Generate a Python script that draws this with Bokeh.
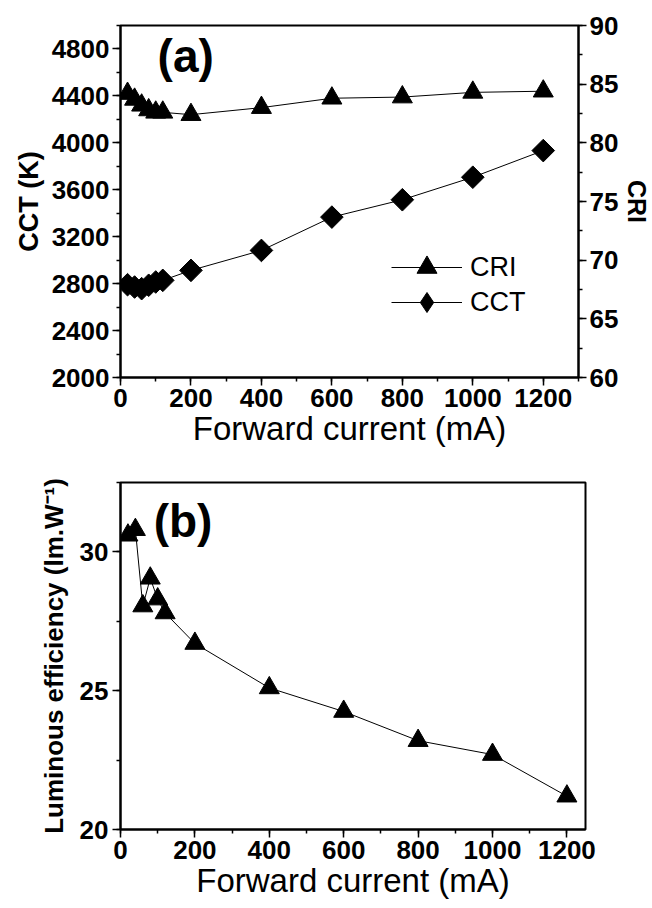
import math
from bokeh.plotting import figure
from bokeh.models import (Range1d, LinearAxis, SingleIntervalTicker, Legend,
                          LegendItem, Label)
from bokeh.layouts import column
from bokeh.embed import file_html
from bokeh.resources import INLINE

# ---------------- data ----------------
current_ma = [20, 40, 60, 80, 100, 120, 200, 400, 600, 800, 1000, 1200]
cri = [84.2, 83.7, 83.2, 82.8, 82.6, 82.6, 82.4, 83.0, 83.8, 83.9, 84.3, 84.4]
cct_k = [2791, 2771, 2757, 2786, 2814, 2828, 2913, 3083, 3367, 3515, 3707, 3934]
efficiency = [30.6, 30.8, 28.05, 29.05, 28.3, 27.8, 26.7, 25.1, 24.25, 23.2, 22.7, 21.2]

x_label = "Forward current (mA)"
cct_label = "CCT (K)"
cri_label = "CRI"
eff_label = "Luminous efficiency (lm.W\u207b\u00b9)"

FONT = "Liberation Sans"
TICK_FS = "26px"
TITLE_FS = "33px"


def style_axis(ax, interval, bold_label=True, label_fs="27px",
               label_standoff=6, tick_standoff=3):
    ax.ticker = SingleIntervalTicker(interval=interval, num_minor_ticks=2)
    ax.axis_line_color = "black"
    ax.axis_line_width = 2
    ax.major_tick_line_color = "black"
    ax.major_tick_line_width = 1.5
    ax.minor_tick_line_color = "black"
    ax.minor_tick_line_width = 1.5
    ax.major_tick_in = 0
    ax.major_tick_out = 8
    ax.minor_tick_in = 0
    ax.minor_tick_out = 4
    ax.major_label_text_font = FONT
    ax.major_label_text_font_style = "bold"
    ax.major_label_text_font_size = TICK_FS
    ax.major_label_text_color = "black"
    ax.major_label_standoff = tick_standoff
    ax.axis_label_text_font = FONT
    ax.axis_label_text_font_style = "bold" if bold_label else "normal"
    ax.axis_label_text_font_size = label_fs
    ax.axis_label_text_color = "black"
    ax.axis_label_standoff = label_standoff


def make_legend(label, renderers, loc):
    return Legend(items=[LegendItem(label=label, renderers=renderers)],
                  location=loc, orientation="vertical",
                  glyph_width=71, glyph_height=50, label_height=50,
                  spacing=0, padding=0, margin=0, label_standoff=8,
                  border_line_color=None, background_fill_alpha=0,
                  inactive_fill_alpha=0,
                  label_text_font=FONT, label_text_font_size="27px",
                  label_text_color="black")


# ---------------- panel (a) ----------------
p1 = figure(frame_width=458, frame_height=352,
            min_border_left=120, min_border_top=25,
            min_border_right=72, min_border_bottom=80,
            x_range=Range1d(0, 1300), y_range=Range1d(2000, 5000),
            output_backend="svg", toolbar_location=None,
            background_fill_color="white", border_fill_color="white")
p1.extra_y_ranges = {"cri": Range1d(60, 90)}
p1.xgrid.visible = False
p1.ygrid.visible = False
p1.outline_line_color = "black"
p1.outline_line_width = 2

style_axis(p1.xaxis[0], 200, bold_label=False, label_fs=TITLE_FS, label_standoff=0)
p1.xaxis[0].axis_label = x_label
style_axis(p1.yaxis[0], 400, label_standoff=5)
p1.yaxis[0].axis_label = cct_label

right_ax = LinearAxis(y_range_name="cri")
style_axis(right_ax, 5, label_fs="25px", label_standoff=2, tick_standoff=3)
right_ax.axis_label = cri_label
p1.add_layout(right_ax, "right")

l_cri = p1.line(current_ma, cri, y_range_name="cri", line_color="black", line_width=1)
s_cri = p1.scatter(current_ma, cri, y_range_name="cri", marker="triangle", size=20,
                   fill_color="black", line_color="black")
l_cct = p1.line(current_ma, cct_k, line_color="black", line_width=1)
s_cct = p1.scatter(current_ma, cct_k, marker="square", angle=math.pi / 4, size=16,
                   fill_color="black", line_color="black")
# legend-only glyph (diamond shape, hidden in the plot area)
s_cct_leg = p1.scatter(current_ma, cct_k, marker="diamond", size=20,
                       fill_color="black", line_color="black", visible=False)

p1.add_layout(make_legend(cri_label, [l_cri, s_cri], (271, 85)), "center")
p1.add_layout(make_legend("CCT", [l_cct, s_cct_leg], (271, 50)), "center")

p1.add_layout(Label(x=185, y=4740, text="(a)", text_align="center",
                    text_baseline="middle", text_font=FONT, text_font_style="bold",
                    text_font_size="46px", text_color="black"))

# ---------------- panel (b) ----------------
p2 = figure(frame_width=465, frame_height=347,
            min_border_left=117, min_border_top=25,
            min_border_right=30, min_border_bottom=72,
            x_range=Range1d(0, 1250), y_range=Range1d(20, 32.5),
            output_backend="svg", toolbar_location=None,
            background_fill_color="white", border_fill_color="white")
p2.xgrid.visible = False
p2.ygrid.visible = False
p2.outline_line_color = "black"
p2.outline_line_width = 2

style_axis(p2.xaxis[0], 200, bold_label=False, label_fs=TITLE_FS, label_standoff=0)
p2.xaxis[0].axis_label = x_label
style_axis(p2.yaxis[0], 5, label_fs="26px", label_standoff=8, tick_standoff=4)
p2.yaxis[0].axis_label = eff_label

p2.line(current_ma, efficiency, line_color="black", line_width=1)
p2.scatter(current_ma, efficiency, marker="triangle", size=20,
           fill_color="black", line_color="black")

p2.add_layout(Label(x=168, y=31.1, text="(b)", text_align="center",
                    text_baseline="middle", text_font=FONT, text_font_style="bold",
                    text_font_size="46px", text_color="black"))

layout = column(p1, p2, spacing=0)
open("out.html", "w").write(file_html(layout, INLINE))
